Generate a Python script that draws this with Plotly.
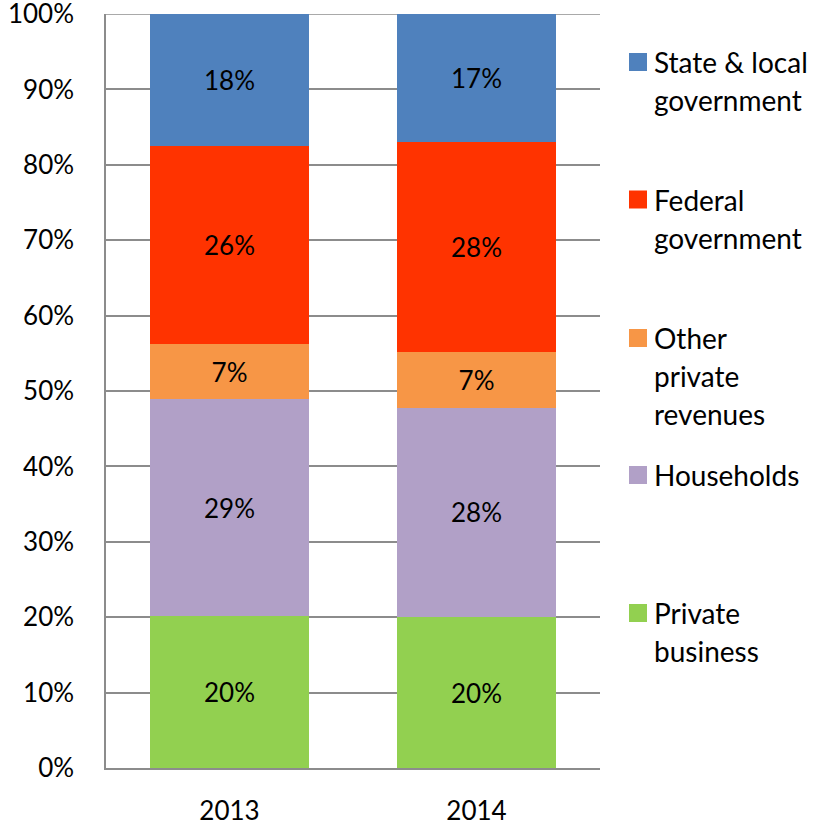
import plotly.graph_objects as go

categories = ["2013", "2014"]
private_business = [20.1, 20.0]
households = [28.8, 27.8]
other_private = [7.3, 7.4]
federal = [26.3, 27.8]
state_local = [17.5, 17.0]

series_names = ["Private business", "Households", "Other private revenues",
                "Federal government", "State & local government"]
series_values = [private_business, households, other_private, federal, state_local]
series_colors = ["#92D050", "#B1A0C7", "#F79646", "#FF3300", "#4F81BD"]

# legend text lines (top to bottom)
legend_lines = [
    ["State & local", "government"],
    ["Federal", "government"],
    ["Other", "private", "revenues"],
    ["Households"],
    ["Private", "business"],
]
legend_colors = ["#4F81BD", "#FF3300", "#F79646", "#B1A0C7", "#92D050"]

y_ticks = list(range(0, 101, 10))
y_tick_labels = [f"{v}%" for v in y_ticks]

FONT = "Lato"
FS = 26
LEG_FS = 28
GRID = "#8C8C8C"

fig = go.Figure()
for name, vals, col in zip(series_names, series_values, series_colors):
    fig.add_trace(go.Bar(
        x=categories, y=vals, name=name,
        marker=dict(color=col, line=dict(width=0)),
        texttemplate="%{y:.0f}%", textposition="inside",
        insidetextanchor="middle", textangle=0,
        textfont=dict(family=FONT, size=FS, color="black"),
        showlegend=False,
    ))

# plot-area geometry in pixels (for legend placement)
L, R, T, B = 106, 600, 14, 768
W, H = R - L, B - T

def px_x(x):
    return (x - L) / W

def px_y(y):
    return (B - y) / H

centers = [62, 199.5, 338, 475, 613]
line_gap = 38
shapes = [dict(type="line", xref="paper", yref="y", x0=0, x1=1,
               y0=y_ticks[-1], y1=y_ticks[-1], layer="below",
               line=dict(color=GRID, width=1.5))]
annotations = []
for lines, col, cy in zip(legend_lines, legend_colors, centers):
    shapes.append(dict(type="rect", xref="paper", yref="paper",
                       x0=px_x(629), x1=px_x(647), y0=px_y(cy + 9), y1=px_y(cy - 9),
                       fillcolor=col, line=dict(width=0)))
    for i, t in enumerate(lines):
        annotations.append(dict(text=t, xref="paper", yref="paper",
                                x=px_x(652), y=px_y(cy + i * line_gap),
                                xanchor="left", yanchor="middle", showarrow=False,
                                font=dict(family=FONT, size=LEG_FS, color="black")))

fig.update_layout(
    width=819, height=826,
    margin=dict(l=L, r=819 - R, t=T, b=826 - B, autoexpand=False),
    paper_bgcolor="white", plot_bgcolor="white",
    barmode="stack", bargap=0.356,
    uniformtext=dict(minsize=FS, mode="show"),
    shapes=shapes, annotations=annotations,
    font=dict(family=FONT, size=FS, color="black"),
    xaxis=dict(showline=True, linecolor=GRID, linewidth=1.5,
               ticks="", showgrid=False, ticklabelstandoff=19,
               tickfont=dict(family=FONT, size=FS, color="black")),
    yaxis=dict(range=[0, 100], tickvals=y_ticks, ticktext=y_tick_labels,
               showline=True, linecolor=GRID, linewidth=1.5,
               showgrid=True, gridcolor=GRID, gridwidth=1.5,
               zeroline=False, ticks="", ticklabelstandoff=25,
               ticklabeloverflow="allow",
               tickfont=dict(family=FONT, size=FS, color="black")),
)

fig.write_html("out.html", config={"displayModeBar": False},
               post_script="document.body.style.margin='0';document.body.style.padding='0';")
